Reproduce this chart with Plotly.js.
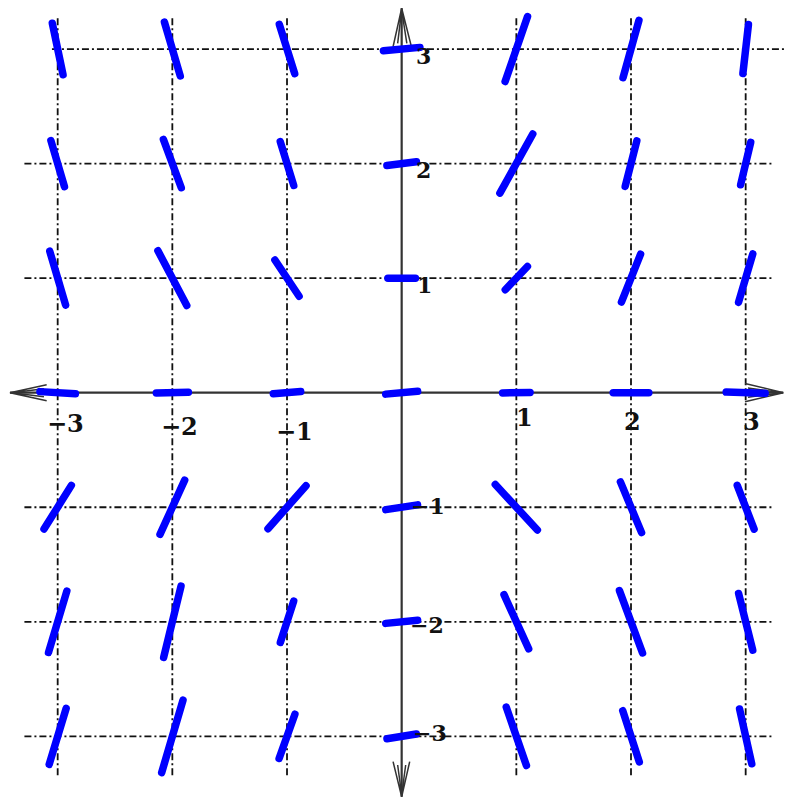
<!DOCTYPE html>
<html><head><meta charset="utf-8">
<script src="https://cdn.plot.ly/plotly-3.0.1.min.js"></script>
<style>html,body{margin:0;padding:0;background:#fff}#chart{width:785px;height:799px}</style>
</head><body><div id="chart"></div>
<script>
// Slope field sample points
const gridX = [-3, -2, -1, 0, 1, 2, 3];
const gridY = [3, 2, 1, 0, -1, -2, -3];
// slope of each drawn segment (rows follow gridY, columns follow gridX)
const slopes = [
  [-4.8, -3.4, -3.2, 0.09, 2.9, 3.6, 8.8],
  [-3.4, -2.7, -3.25, 0.13, 1.8, 3.9, 4.2],
  [-3.4, -1.9, -1.5, 0.0, 1.05, 2.5, 3.4],
  [-0.06, 0.02, 0.08, 0.09, 0.02, 0.0, -0.03],
  [1.6, 2.2, 1.13, 0.15, -1.08, -2.4, -2.6],
  [3.35, 4.1, 3.1, 0.1, -2.2, -2.7, -4.0],
  [3.3, 3.4, 2.8, 0.16, -2.9, -3.1, -4.5]
];
// length of each drawn segment, in axis units
const lengths = [
  [0.46, 0.49, 0.45, 0.32, 0.60, 0.52, 0.43],
  [0.42, 0.45, 0.40, 0.26, 0.59, 0.41, 0.38],
  [0.49, 0.54, 0.38, 0.24, 0.28, 0.45, 0.44],
  [0.31, 0.28, 0.24, 0.28, 0.24, 0.31, 0.34],
  [0.45, 0.52, 0.50, 0.28, 0.54, 0.48, 0.41],
  [0.56, 0.64, 0.38, 0.28, 0.52, 0.58, 0.51],
  [0.51, 0.66, 0.41, 0.26, 0.54, 0.47, 0.49]
];
const xTickVals = [-3, -2, -1, 1, 2, 3];
const xTickText = ['−3', '−2', '−1', '1', '2', '3'];
const yTickVals = [3, 2, 1, -1, -2, -3];
const yTickText = ['3', '2', '1', '−1', '−2', '−3'];

// ---- build segments ----
const sx = [], sy = [];
gridY.forEach((cy, i) => {
  gridX.forEach((cx, j) => {
    const m = slopes[i][j], L = lengths[i][j];
    const n = Math.sqrt(1 + m * m);
    const hx = L / 2 / n, hy = L / 2 * m / n;
    sx.push(cx - hx, cx + hx, null);
    sy.push(cy - hy, cy + hy, null);
  });
});

const traces = [{
  type: 'scatter', mode: 'lines', x: sx, y: sy,
  line: {color: '#0000ff', width: 7.5}, hoverinfo: 'skip', connectgaps: false
}];

// ---- grid & axes as shapes ----
const shapes = [];
const gridDash = '7px,3px,2px,3px';
gridY.forEach(v => {
  if (v === 0) return;
  const x0 = v === 3 ? -3.05 : -3.29;
  const x1 = v === 3 ? 3.4 : 3.24;
  shapes.push({type: 'line', xref: 'x', yref: 'y', x0: x0, x1: x1, y0: v, y1: v, layer: 'below',
    line: {color: '#111', width: 1.8, dash: gridDash}});
});
gridX.forEach(v => {
  if (v === 0) return;
  shapes.push({type: 'line', xref: 'x', yref: 'y', x0: v, x1: v, y0: -3.34, y1: 3.29, layer: 'below',
    line: {color: '#111', width: 1.8, dash: gridDash}});
});
const axisCol = '#333';
shapes.push({type: 'line', xref: 'x', yref: 'y', x0: -3.416, x1: 3.328, y0: 0, y1: 0, layer: 'below', line: {color: axisCol, width: 2.2}});
shapes.push({type: 'line', xref: 'x', yref: 'y', x0: 0, x1: 0, y0: -3.527, y1: 3.356, layer: 'below', line: {color: axisCol, width: 2.2}});
// arrowheads
const arrows = [
  'M -3.096 0.07 L -3.416 0 L -3.096 -0.07 M -3.12 0.035 L -3.40 0 L -3.12 -0.035',
  'M 2.994 0.08 L 3.328 0 L 2.994 -0.08 M 3.02 0.04 L 3.31 0 L 3.02 -0.04',
  'M -0.075 3.02 L 0 3.356 L 0.085 3.02 M -0.035 3.05 L 0 3.34 L 0.045 3.05',
  'M -0.075 -3.221 L 0 -3.527 L 0.07 -3.221 M -0.035 -3.25 L 0 -3.51 L 0.035 -3.25'
];
arrows.forEach(p => shapes.push({type: 'path', xref: 'x', yref: 'y', path: p, layer: 'below', line: {color: axisCol, width: 1.5}}));

// ---- tick labels ----
const xLabelShift = [[8.3, -31.3], [7.6, -34.3], [7, -39.3], [8.6, -25.3], [1, -29.3], [6.3, -29.3]];
const yLabelShift = [[22.3, -7], [22, -6.4], [23, -6.8], [26, 1.3], [25, -3.2], [28, 3.4]];
const annotations = [];
xTickVals.forEach((v, k) => {
  annotations.push({xref: 'x', yref: 'y', x: v, y: 0, text: '<b>' + xTickText[k] + '</b>', showarrow: false,
    xanchor: 'center', yanchor: 'middle', xshift: xLabelShift[k][0], yshift: xLabelShift[k][1],
    font: {family: 'DejaVu Serif', size: 24, color: '#111'}});
});
yTickVals.forEach((v, k) => {
  annotations.push({xref: 'x', yref: 'y', x: 0, y: v, text: '<b>' + yTickText[k] + '</b>', showarrow: false,
    xanchor: 'center', yanchor: 'middle', xshift: yLabelShift[k][0], yshift: yLabelShift[k][1],
    font: {family: 'DejaVu Serif', size: 22, color: '#111'}});
});

const layout = {
  width: 785, height: 799,
  margin: {l: 0, r: 0, t: 0, b: 0, pad: 0},
  paper_bgcolor: '#fff', plot_bgcolor: '#fff',
  showlegend: false,
  xaxis: {range: [-3.503, 3.343], visible: false, fixedrange: true},
  yaxis: {range: [-3.547, 3.428], visible: false, fixedrange: true},
  shapes: shapes, annotations: annotations
};

Plotly.newPlot('chart', traces, layout, {staticPlot: true, displayModeBar: false}).then(() => {
  document.querySelectorAll('.scatterlayer .js-line').forEach(p => {
    p.style.strokeLinecap = 'round';
    p.style.strokeLinejoin = 'round';
  });
});
</script>
</body></html>
